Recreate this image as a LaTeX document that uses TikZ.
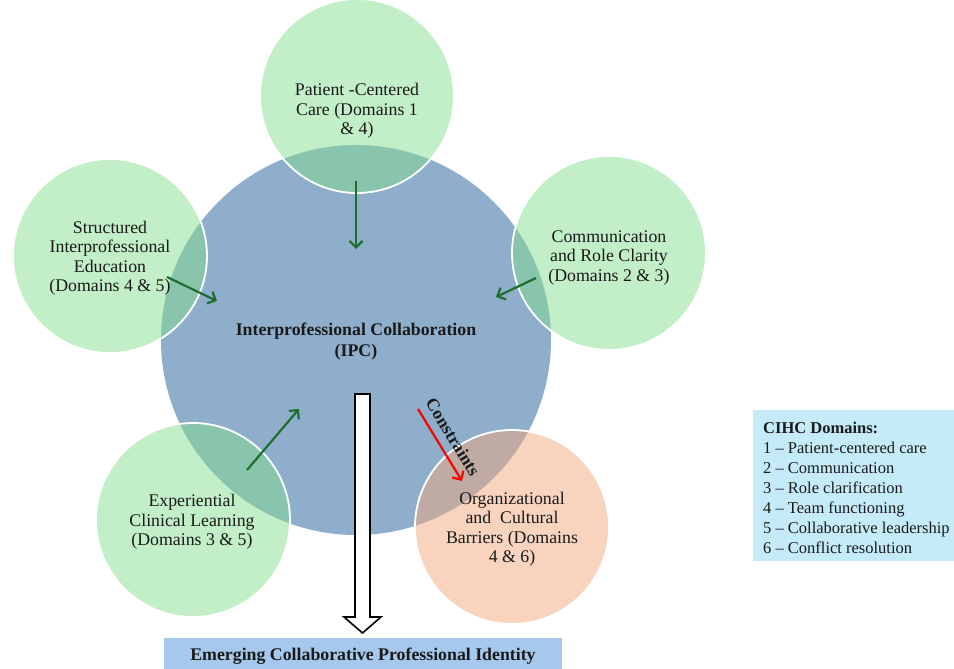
\documentclass[tikz,border=0pt]{standalone}
\usepackage{fontspec}
\setmainfont{Liberation Serif}
\usetikzlibrary{arrows.meta}

\definecolor{ipcblue}{RGB}{143,174,203}
\definecolor{leafgreen}{RGB}{133,221,145}
\definecolor{barrierpeach}{RGB}{241,169,127}
\definecolor{arrowgreen}{RGB}{31,110,46}
\definecolor{legendfill}{RGB}{197,235,249}
\definecolor{identityfill}{RGB}{166,200,236}
\definecolor{inktext}{RGB}{26,26,26}

\begin{document}
\begin{tikzpicture}[x=1pt,y=-1pt,
  hub/.style={circle, minimum size=390pt, inner sep=0pt, fill=ipcblue},
  leaf/.style={circle, minimum size=194pt, inner sep=0pt, fill=leafgreen,
    fill opacity=0.5, draw=white, line width=1.8pt},
  barrier/.style={leaf, fill=barrierpeach},
  label/.style={align=center, inner sep=0pt, text=inktext,
    font=\fontsize{17.8}{19.5}\selectfont},
  boldlabel/.style={label, font=\bfseries\fontsize{17.8}{21}\selectfont},
  influence/.style={draw=arrowgreen, line width=2.2pt,
    -{Straight Barb[length=6.5pt,width=13pt]}},
  constraint/.style={influence, draw=red},
  hollow/.style={draw=black, line width=1.6pt, fill=white, line join=miter}]

\useasboundingbox (0,0) rectangle (954,669);

% central collaboration circle and the five surrounding factors
\node[hub] (ipc) at (356,340) {};
\node[leaf] (pcc) at (357,96) {};
\node[leaf] (sie) at (110,256) {};
\node[leaf] (crc) at (609,253) {};
\node[leaf] (ecl) at (193,520) {};
\node[barrier] (ocb) at (512,527) {};

% labels
\node[boldlabel] (ipct) at (356,342) {Interprofessional Collaboration\\(IPC)};
\node[label] (pcct) at (357,111) {Patient -Centered\\Care (Domains 1\\\& 4)};
\node[label] (siet) at (110,258) {Structured\\Interprofessional\\Education\\(Domains 4 \& 5)};
\node[label] (crct) at (609,258) {Communication\\and Role Clarity\\(Domains 2 \& 3)};
\node[label] (eclt) at (192,522) {Experiential\\Clinical Learning\\(Domains 3 \& 5)};
\node[label] (ocbt) at (512,529) {Organizational\\and\ \ Cultural\\Barriers (Domains\\4 \& 6)};

% arrow end points
\coordinate (pccA) at (356,181);
\coordinate (pccB) at (356,249);
\coordinate (sieA) at (167,277);
\coordinate (sieB) at (217,301);
\coordinate (crcA) at (536,278);
\coordinate (crcB) at (496,297);
\coordinate (eclA) at (247,470);
\coordinate (eclB) at (299,409);
\coordinate (ocbA) at (418,409);
\coordinate (ocbB) at (462,481);

\draw[influence] (pccA) -- (pccB);
\draw[influence] (sieA) -- (sieB);
\draw[influence] (crcA) -- (crcB);
\draw[influence] (eclA) -- (eclB);
\draw[constraint] (ocbA) -- (ocbB);
\node[font=\bfseries\fontsize{17.5}{17.5}\selectfont, text=inktext, rotate=-58.5,
  inner sep=0pt] (constr) at (453,437) {Constraints};

% outcome box and the hollow arrow leading to it
\node[fill=identityfill, minimum width=398pt, minimum height=34pt, inner sep=0pt,
  anchor=north west] (identity) at (164,638) {};
\node[boldlabel] (identityt) at (363,656) {Emerging Collaborative Professional Identity};
\draw[hollow] (355,394) -- (370,394) -- (370,617) -- (381,617) -- (362.5,633)
  -- (344,617) -- (355,617) -- cycle;

% legend
\node[fill=legendfill, minimum width=201pt, minimum height=151pt, inner sep=0pt,
  anchor=north west] (legendbox) at (753,410) {};
\node[anchor=north west, align=left, inner sep=0pt, text=inktext,
  font=\fontsize{16.5}{20}\selectfont] (legend) at (763,422)
  {\textbf{CIHC Domains:}\\
   1 -- Patient-centered care\\
   2 -- Communication\\
   3 -- Role clarification\\
   4 -- Team functioning\\
   5 -- Collaborative leadership\\
   6 -- Conflict resolution};
\end{tikzpicture}
\end{document}
